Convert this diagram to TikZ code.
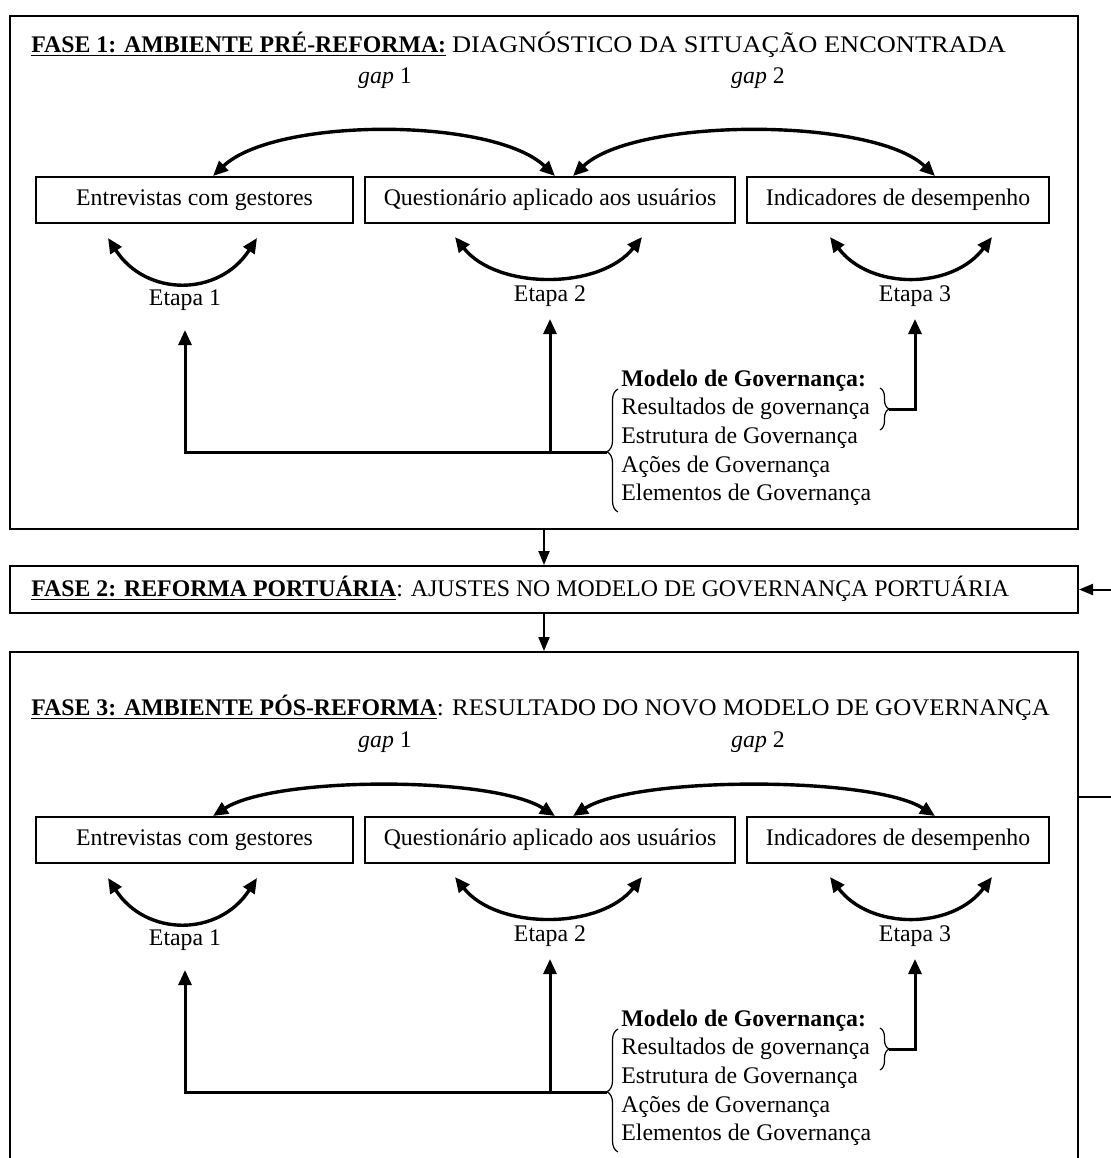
\documentclass[tikz,border=0pt]{standalone}
\usepackage{fontspec}
\setmainfont{Liberation Serif}
\usetikzlibrary{arrows.meta,decorations.pathreplacing,calc}

\tikzset{
  panel/.style={draw, line width=1pt, inner sep=0pt, anchor=north west},
  lbl/.style={font=\fontsize{11.9}{14}\selectfont, inner sep=0pt},
  itembox/.style={draw, line width=1pt, minimum height=23pt, inner sep=0pt},
  dblarc/.style={line width=1.7pt, {Triangle[length=7.5pt,width=6.5pt]}-{Triangle[length=7.5pt,width=6.5pt]}},
  feed/.style={line width=1.5pt, -{Triangle[length=7.5pt,width=6.5pt]}},
  flow/.style={line width=1pt, -{Triangle[length=7pt,width=5.5pt]}},
  brc/.style={decorate, line width=0.6pt},
}

% one row of data sources with its gaps, stages and governance model
% #1 name prefix, #2 vertical shift, #3 gap label y, #4 arc control y
\newcommand\stagerow[4]{%
\begin{scope}[shift={(0,#2)}, name prefix=#1-]
  \node[itembox, lbl, minimum width=158.5pt] (b1) at (194.5,200) {Entrevistas com gestores};
  \node[itembox, lbl, minimum width=185pt] (b2) at (550,200) {Questionário aplicado aos usuários};
  \node[itembox, lbl, minimum width=151pt] (b3) at (898,200) {Indicadores de desempenho};

  \node[lbl] (gl1) at (385,#3) {\textit{gap} 1};
  \node[lbl] (gl2) at (758,#3) {\textit{gap} 2};
  \coordinate (g1a) at (213,176); \coordinate (g1b) at (555,176);
  \coordinate (g2a) at (573,176); \coordinate (g2b) at (935,176);
  \draw[dblarc] (g1a) .. controls (275,#4) and (493,#4) .. (g1b);
  \draw[dblarc] (g2a) .. controls (635,#4) and (873,#4) .. (g2b);

  \coordinate (e1a) at (108,238); \coordinate (e1b) at (257,238);
  \coordinate (e2a) at (455,237); \coordinate (e2b) at (642,237);
  \coordinate (e3a) at (830,237); \coordinate (e3b) at (992,237);
  \draw[dblarc] (e1a) .. controls (146,297) and (219,297) .. (e1b);
  \draw[dblarc] (e2a) .. controls (497,290) and (600,290) .. (e2b);
  \draw[dblarc] (e3a) .. controls (870,290) and (952,290) .. (e3b);
  \node[lbl] (s1) at (185,300) {Etapa 1};
  \node[lbl] (s2) at (550,296) {Etapa 2};
  \node[lbl] (s3) at (915,296) {Etapa 3};

  \node[lbl, anchor=base west] (m1) at (621,386) {\textbf{Modelo de Governança:}};
  \node[lbl, anchor=base west] (m2) at (621,414.7) {Resultados de governança};
  \node[lbl, anchor=base west] (m3) at (621,443.4) {Estrutura de Governança};
  \node[lbl, anchor=base west] (m4) at (621,472.1) {Ações de Governança};
  \node[lbl, anchor=base west] (m5) at (621,500.8) {Elementos de Governança};

  \coordinate (lbB) at (618,512); \coordinate (lbT) at (618,389);
  \draw[brc, decoration={brace, amplitude=5.5pt, aspect=0.49}] (lbB) -- (lbT);
  \coordinate (rbT) at (880,388); \coordinate (rbB) at (880,430);
  \draw[brc, decoration={brace, amplitude=4.5pt, aspect=0.5}] (rbT) -- (rbB);

  \coordinate (lt) at (607,452);
  \coordinate (rt) at (889,409);
  \coordinate (a1) at (185,330);
  \coordinate (a2) at (550,319);
  \coordinate (a3) at (915,319);
  \draw[feed] (lt) -| (a1);
  \draw[feed] (lt -| a2) -- (a2);
  \draw[feed] (rt) -| (a3);
\end{scope}}

\begin{document}
\begin{tikzpicture}[x=0.5pt,y=-0.5pt]
  \useasboundingbox (0,0) rectangle (1110,1158);

  % the three phases
  \node[panel, minimum width=534pt, minimum height=256.5pt] (ph1) at (9,15) {};
  \node[panel, minimum width=534pt, minimum height=23.5pt] (ph2) at (9,565) {};
  \node[panel, minimum width=534pt, minimum height=262pt] (ph3) at (9,651) {};

  \node[lbl, anchor=west] (h1) at (31,45)
    {\underline{\textbf{FASE 1: AMBIENTE PRÉ-REFORMA:}} \scalebox{1.11}[1]{DIAGNÓSTICO DA SITUAÇÃO ENCONTRADA}};
  \node[lbl, anchor=west] (h2) at (31,589)
    {\underline{\textbf{FASE 2: REFORMA PORTUÁRIA}}: AJUSTES NO MODELO DE GOVERNANÇA PORTUÁRIA};
  \node[lbl, anchor=west] (h3) at (31,708)
    {\underline{\textbf{FASE 3: AMBIENTE PÓS-REFORMA}}\scalebox{1.048}[1]{: RESULTADO DO NOVO MODELO DE GOVERNANÇA}};

  \stagerow{pre}{0}{78}{117}
  \stagerow{pos}{640}{102}{136}

  % flow between phases
  \draw[flow] (ph1.south) -- (ph2.north);
  \draw[flow] (ph2.south) -- (ph3.north);

  % feedback from the post-reform results into the reform
  \coordinate (fbo) at (1077,797);
  \coordinate (fbx) at (1118,700);
  \draw[flow] (fbo) -| (fbx) |- (ph2.east);
\end{tikzpicture}
\end{document}
